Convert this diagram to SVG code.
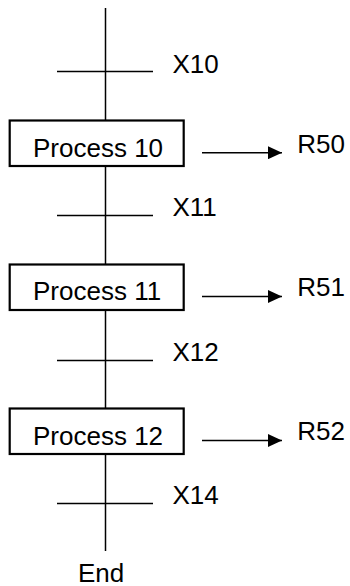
<svg xmlns="http://www.w3.org/2000/svg" width="350" height="586" viewBox="0 0 350 586">
<defs>
<style>
text{font-family:"Liberation Sans",Arial,sans-serif;font-size:26px;fill:#000}
.ln{stroke:#000;stroke-width:1.5;fill:none}
.box{stroke:#000;stroke-width:2.2;fill:#fff}
</style>
<marker id="ah" markerWidth="14" markerHeight="13" refX="14" refY="6.5" orient="auto" markerUnits="userSpaceOnUse">
<path d="M0,0 L14,6.5 L0,13 z" fill="#000"/>
</marker>
</defs>
<g id="connectors">
<line class="ln" x1="105.5" y1="8" x2="105.5" y2="551"/>
<line class="ln" x1="57" y1="71.5" x2="153" y2="71.5"/>
<line class="ln" x1="57" y1="215.5" x2="153" y2="215.5"/>
<line class="ln" x1="57" y1="360.5" x2="153" y2="360.5"/>
<line class="ln" x1="57" y1="503.5" x2="153" y2="503.5"/>
<line class="ln" x1="202" y1="152.7" x2="282" y2="152.7" marker-end="url(#ah)"/>
<line class="ln" x1="202" y1="296.5" x2="282" y2="296.5" marker-end="url(#ah)"/>
<line class="ln" x1="202" y1="440.5" x2="282" y2="440.5" marker-end="url(#ah)"/>
</g>
<g id="t10"><text x="172.5" y="72.5">X10</text></g>
<g id="p10"><rect class="box" x="9.7" y="120.5" width="174" height="45.5"/><text x="33" y="157">Process 10</text></g>
<g id="r50"><text x="297.3" y="152.5">R50</text></g>
<g id="t11"><text x="172.5" y="216">X11</text></g>
<g id="p11"><rect class="box" x="9.7" y="264.5" width="174" height="45.5"/><text x="33" y="300">Process 11</text></g>
<g id="r51"><text x="297.3" y="296">R51</text></g>
<g id="t12"><text x="172.5" y="360.5">X12</text></g>
<g id="p12"><rect class="box" x="9.7" y="408.5" width="174" height="45.5"/><text x="33" y="444.5">Process 12</text></g>
<g id="r52"><text x="297.3" y="440">R52</text></g>
<g id="t14"><text x="172.5" y="504">X14</text></g>
<g id="end"><text x="78" y="582">End</text></g>
</svg>
